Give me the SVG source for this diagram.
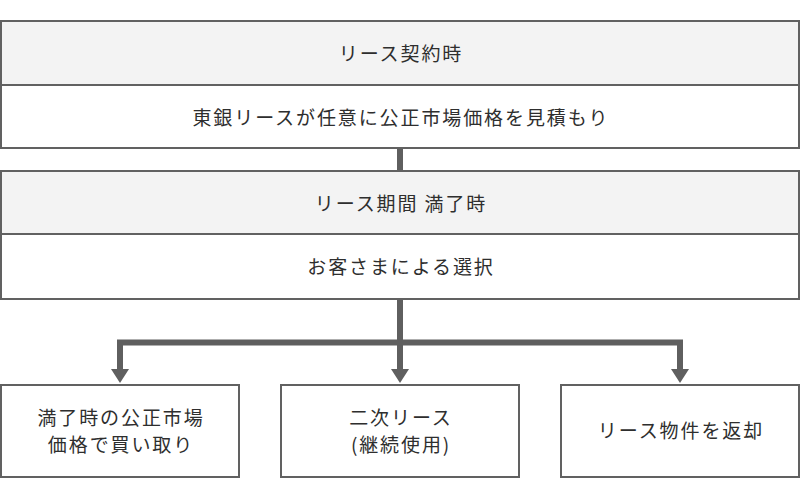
<svg xmlns="http://www.w3.org/2000/svg" width="800" height="498" viewBox="0 0 800 498">
<style>
.box{fill:#ffffff;stroke:#616161;stroke-width:2}
.head{fill:#f3f3f3}
.div{stroke:#616161;stroke-width:2}
.t{font-family:"Noto Sans CJK JP","Noto Sans",sans-serif;font-size:19px;fill:#2e2e2e;text-anchor:middle;letter-spacing:1.9px}
.conn{fill:none;stroke:#5f5f5f;stroke-width:6}
.arrow{fill:#5f5f5f}
</style>
<rect width="800" height="498" fill="#ffffff"/>
<g id="connectors">
<line class="conn" x1="400" y1="148" x2="400" y2="171"/>
<path class="conn" d="M400 299 V370"/>
<path class="conn" d="M120 370 V342.5 H680 V370"/>
<polygon class="arrow" points="111,369 129,369 120,383"/>
<polygon class="arrow" points="391,369 409,369 400,383"/>
<polygon class="arrow" points="671,369 689,369 680,383"/>
</g>
<g id="node-contract">
<rect class="box" x="1" y="21" width="798" height="127"/>
<rect class="head" x="2" y="22" width="796" height="62"/>
<line class="div" x1="1" y1="85" x2="799" y2="85"/>
<text class="t" x="401" y="60.5">リース契約時</text>
<text class="t" x="401" y="124.5">東銀リースが任意に公正市場価格を見積もり</text>
</g>
<g id="node-expiry">
<rect class="box" x="1" y="171" width="798" height="128"/>
<rect class="head" x="2" y="172" width="796" height="61"/>
<line class="div" x1="1" y1="234" x2="799" y2="234"/>
<text class="t" x="401" y="210.5">リース期間 満了時</text>
<text class="t" x="401" y="273.5">お客さまによる選択</text>
</g>
<g id="node-buy">
<rect class="box" x="1" y="385" width="238" height="92"/>
<text class="t" x="121" y="424.5">満了時の公正市場</text>
<text class="t" x="121" y="451.5">価格で買い取り</text>
</g>
<g id="node-renew">
<rect class="box" x="281" y="385" width="238" height="92"/>
<text class="t" x="401" y="424.5">二次リース</text>
<text class="t" x="401" y="451.5">(継続使用)</text>
</g>
<g id="node-return">
<rect class="box" x="561" y="385" width="238" height="92"/>
<text class="t" x="681" y="438">リース物件を返却</text>
</g>
</svg>
